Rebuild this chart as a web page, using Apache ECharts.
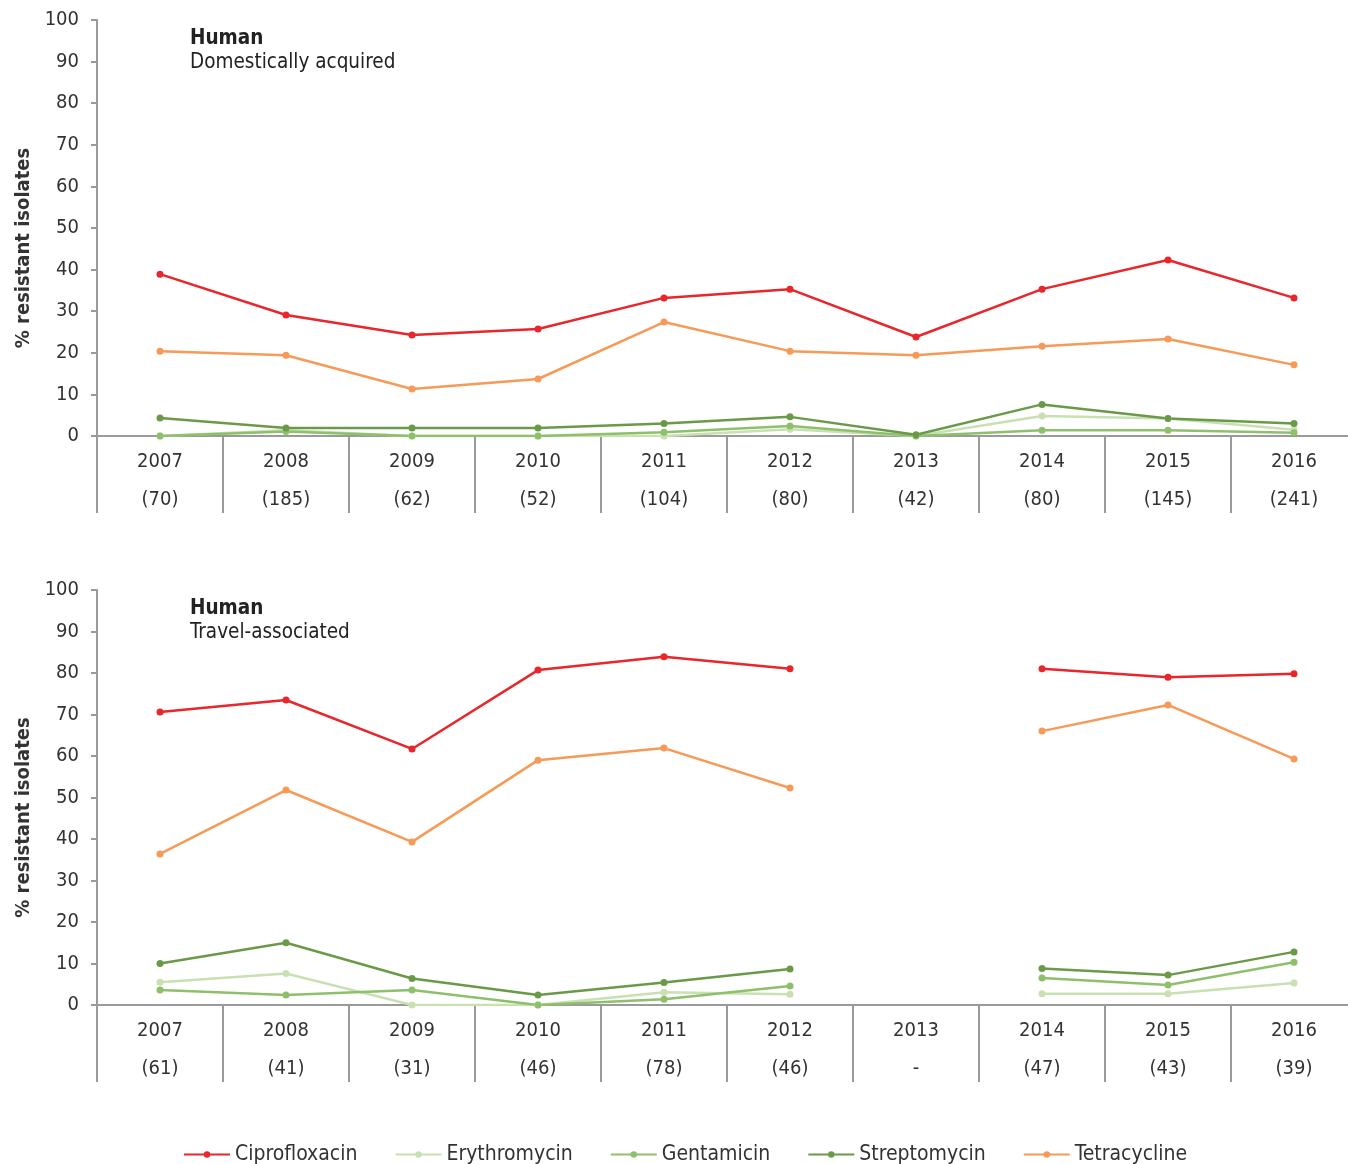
<!DOCTYPE html>
<html>
<head>
<meta charset="utf-8">
<script src="https://cdn.jsdelivr.net/npm/echarts@6/dist/echarts.min.js"></script>
<style>
  html, body { margin: 0; padding: 0; background: #fff; }
  #chart { width: 1348px; height: 1164px; }
</style>
</head>
<body>
<div id="chart"></div>
<script>
const years = ['2007', '2008', '2009', '2010', '2011', '2012', '2013', '2014', '2015', '2016']
const domesticN = ['(70)', '(185)', '(62)', '(52)', '(104)', '(80)', '(42)', '(80)', '(145)', '(241)']
const travelN = ['(61)', '(41)', '(31)', '(46)', '(78)', '(46)', '-', '(47)', '(43)', '(39)']

const drugs = ['Ciprofloxacin', 'Erythromycin', 'Gentamicin', 'Streptomycin', 'Tetracycline']
const colors = ['#e8262b', '#c9e0b2', '#8ec06c', '#6a9a48', '#f79a57']

// Human, domestically acquired
const domCipro = [38.9, 29.1, 24.3, 25.7, 33.2, 35.3, 23.8, 35.3, 42.3, 33.2]
const domEry = [0, 1.4, 0, 0, 0, 1.6, 0, 4.8, 4.2, 1.5]
const domGen = [0, 1.1, 0, 0, 0.9, 2.4, 0, 1.4, 1.4, 0.8]
const domStrep = [4.3, 1.9, 1.9, 1.9, 3.0, 4.6, 0.3, 7.6, 4.2, 3.0]
const domTet = [20.4, 19.4, 11.3, 13.7, 27.4, 20.4, 19.4, 21.6, 23.3, 17.1]

// Human, travel-associated (no data 2013)
const trvCipro = [70.6, 73.5, 61.7, 80.7, 83.9, 81.0, null, 81.0, 79.0, 79.8]
const trvEry = [5.5, 7.6, 0, 0, 3.1, 2.6, null, 2.7, 2.7, 5.3]
const trvGen = [3.6, 2.4, 3.6, 0, 1.4, 4.6, null, 6.5, 4.8, 10.3]
const trvStrep = [10.0, 15.0, 6.4, 2.4, 5.4, 8.7, null, 8.8, 7.2, 12.8]
const trvTet = [36.4, 51.8, 39.3, 59.0, 61.9, 52.3, null, 66.0, 72.3, 59.3]

const domData = [domCipro, domEry, domGen, domStrep, domTet]
const trvData = [trvCipro, trvEry, trvGen, trvStrep, trvTet]

const FONT = '"DejaVu Sans Condensed", "DejaVu Sans", sans-serif'
const axisGray = '#9a9a9a'

const chart = echarts.init(document.getElementById('chart'))

// x axis with year + sample size on two lines
const makeXAxis = (gridIndex, counts) => ({
  type: 'category',
  gridIndex: gridIndex,
  data: years.map((y, i) => y + '\n' + counts[i]),
  axisLine: { lineStyle: { color: axisGray, width: 2 } },
  axisTick: { show: true, interval: 0, length: 77, lineStyle: { color: axisGray, width: 2 } },
  axisLabel: {
    interval: 0,
    color: '#333',
    fontSize: 20,
    fontFamily: FONT,
    lineHeight: 38,
    margin: 7
  }
})

const makeYAxis = (gridIndex) => ({
  type: 'value',
  gridIndex: gridIndex,
  min: 0,
  max: 100,
  interval: 10,
  name: '% resistant isolates',
  nameLocation: 'middle',
  nameRotate: 90,
  nameGap: 63,
  nameTextStyle: {
    fontSize: 20,
    fontWeight: 'bold',
    color: '#333',
    fontFamily: FONT,
    padding: [0, 40, 0, 0]
  },
  axisLine: { show: true, lineStyle: { color: axisGray, width: 2 } },
  axisTick: { show: true, length: 6, lineStyle: { color: axisGray, width: 2 } },
  axisLabel: { color: '#333', fontSize: 20, fontFamily: FONT, margin: 18 },
  splitLine: { show: false }
})

const makeSeries = (dataSets, idx) => dataSets.map((d, i) => ({
  name: drugs[i],
  type: 'line',
  xAxisIndex: idx,
  yAxisIndex: idx,
  data: d,
  color: colors[i],
  symbol: 'circle',
  symbolSize: 7,
  lineStyle: { width: 2.5 },
  connectNulls: false,
  animation: false
}))

const makeTitle = (sub, top) => ({
  left: 185,
  top: top,
  text: '{b|Human}\n{n|' + sub + '}',
  textStyle: {
    rich: {
      b: { fontSize: 20.5, fontWeight: 'bold', color: '#222', fontFamily: FONT, lineHeight: 24 },
      n: { fontSize: 20.5, fontWeight: 'normal', color: '#222', fontFamily: FONT, lineHeight: 24 }
    }
  }
})

const option = {
  backgroundColor: '#fff',
  title: [makeTitle('Domestically acquired', 22), makeTitle('Travel-associated', 592)],
  legend: {
    data: drugs,
    left: 178,
    top: 1139,
    itemWidth: 46,
    itemHeight: 8,
    itemGap: 37,
    textStyle: { fontSize: 21, color: '#333', fontFamily: FONT }
  },
  grid: [
    { left: 97, right: -9, top: 20, height: 416, outerBoundsMode: 'none' },
    { left: 97, right: -9, top: 590, height: 415, outerBoundsMode: 'none' }
  ],
  xAxis: [makeXAxis(0, domesticN), makeXAxis(1, travelN)],
  yAxis: [makeYAxis(0), makeYAxis(1)],
  series: makeSeries(domData, 0).concat(makeSeries(trvData, 1))
}

chart.setOption(option)
</script>
</body>
</html>
